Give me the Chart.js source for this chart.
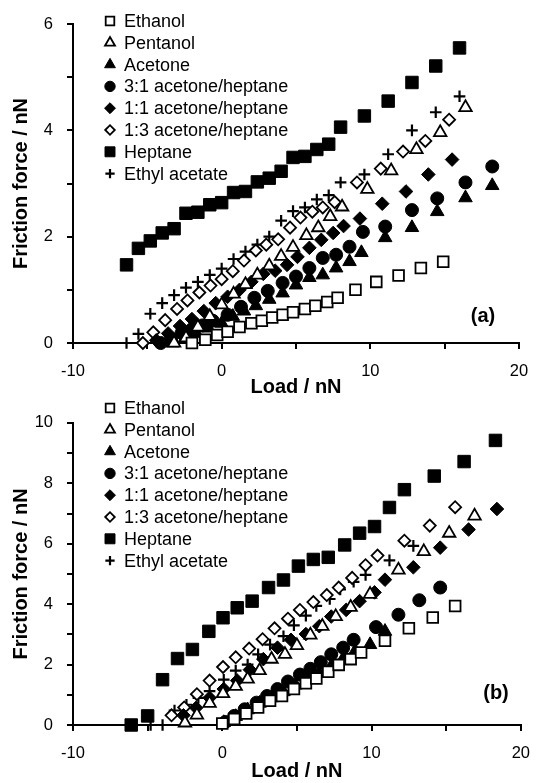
<!DOCTYPE html>
<html>
<head>
<meta charset="utf-8">
<script src="https://cdn.jsdelivr.net/npm/chart.js@4.4.1/dist/chart.umd.min.js"></script>
<style>
  body { margin: 0; background: #fff; }
  canvas { display: block; }
</style>
</head>
<body>
<canvas id="chartA" width="543" height="399"></canvas>
<canvas id="chartB" width="543" height="384"></canvas>
<script>
// Series names (legend order)
const seriesNames = ["Ethanol", "Pentanol", "Acetone", "3:1 acetone/heptane",
  "1:1 acetone/heptane", "1:3 acetone/heptane", "Heptane", "Ethyl acetate"];

// Axis ticks
const xTicks = [-10, 0, 10, 20];
const yTicksA = [0, 2, 4, 6];
const yTicksB = [0, 2, 4, 6, 8, 10];

// ---- Panel (a) : load (nN) / friction force (nN) ----
const ethanolAx = [-2.0, -1.1, -0.3, 0.4, 1.2, 2.0, 2.7, 3.4, 4.1, 4.8, 5.6, 6.3, 7.1, 7.8, 9.0, 10.4, 11.9, 13.4, 14.9];
const ethanolAy = [0, 0.06, 0.15, 0.21, 0.3, 0.37, 0.42, 0.48, 0.53, 0.58, 0.64, 0.7, 0.77, 0.85, 1.0, 1.15, 1.27, 1.41, 1.53];
const pentanolAx = [-3.2, -2.4, -1.6, -0.8, 0, 0.8, 1.6, 2.4, 3.2, 4.0, 4.8, 5.7, 6.5, 7.3, 8.1, 9.8, 11.4, 13.1, 14.7, 16.4];
const pentanolAy = [0, 0.1, 0.3, 0.5, 0.72, 0.92, 1.1, 1.28, 1.45, 1.63, 1.8, 2.02, 2.17, 2.38, 2.56, 2.89, 3.24, 3.64, 3.96, 4.43];
const acetoneAx = [-3.3, -2.5, -1.7, -0.9, 0, 0.75, 1.5, 2.3, 3.2, 4.1, 5.0, 5.9, 6.8, 7.7, 8.6, 9.4, 11.0, 12.8, 14.5, 16.4, 18.2];
const acetoneAy = [0, 0.08, 0.18, 0.28, 0.37, 0.5, 0.6, 0.7, 0.82, 0.94, 1.09, 1.23, 1.28, 1.41, 1.53, 1.7, 1.98, 2.17, 2.47, 2.73, 2.96];
const ace31Ax = [-4.1, -3.4, -2.7, -2.0, -1.3, -0.6, 0.4, 1.3, 2.2, 3.1, 4.1, 5.0, 5.9, 6.8, 7.7, 8.6, 9.5, 11.0, 12.8, 14.5, 16.4, 18.2];
const ace31Ay = [0, 0.08, 0.19, 0.26, 0.33, 0.42, 0.53, 0.68, 0.85, 0.98, 1.13, 1.25, 1.41, 1.6, 1.66, 1.81, 2.09, 2.19, 2.5, 2.72, 3.02, 3.32];
const ace11Ax = [-4.4, -3.6, -2.8, -2.0, -1.2, -0.4, 0.4, 1.2, 2.0, 2.8, 3.6, 4.4, 5.1, 5.9, 6.7, 7.5, 8.2, 9.3, 10.8, 12.4, 13.9, 15.5];
const ace11Ay = [0.05, 0.18, 0.32, 0.45, 0.6, 0.75, 0.87, 1.0, 1.15, 1.3, 1.36, 1.47, 1.62, 1.79, 1.94, 2.07, 2.2, 2.34, 2.62, 2.85, 3.17, 3.45];
const ace13Ax = [-5.3, -4.6, -3.8, -3.0, -2.3, -1.5, -0.75, 0, 0.75, 1.5, 2.3, 3.0, 3.8, 4.6, 5.3, 6.1, 6.8, 7.6, 9.1, 10.7, 12.2, 13.7, 15.3];
const ace13Ay = [0, 0.2, 0.43, 0.64, 0.8, 0.95, 1.08, 1.2, 1.35, 1.55, 1.74, 1.85, 1.95, 2.17, 2.36, 2.47, 2.55, 2.65, 3.02, 3.28, 3.6, 3.8, 4.2];
const heptaneAx = [-6.4, -5.6, -4.8, -4.0, -3.2, -2.4, -1.6, -0.8, 0, 0.8, 1.6, 2.4, 3.2, 4.0, 4.8, 5.6, 6.4, 7.2, 8.0, 9.6, 11.2, 12.8, 14.4, 16.0];
const heptaneAy = [1.47, 1.78, 1.92, 2.07, 2.15, 2.44, 2.46, 2.6, 2.64, 2.83, 2.85, 3.03, 3.1, 3.23, 3.49, 3.51, 3.64, 3.74, 4.06, 4.27, 4.55, 4.9, 5.21, 5.55];
const ethylAx = [-6.4, -5.6, -4.8, -4.0, -3.2, -2.4, -1.6, -0.8, 0, 0.8, 1.6, 2.4, 3.2, 4.0, 4.8, 5.6, 6.4, 7.2, 8.0, 9.6, 11.2, 12.8, 14.4, 16.0];
const ethylAy = [0, 0.17, 0.55, 0.75, 0.9, 1.04, 1.15, 1.28, 1.4, 1.58, 1.72, 1.85, 2.0, 2.3, 2.48, 2.55, 2.7, 2.78, 3.02, 3.17, 3.55, 4.0, 4.34, 4.64];

// ---- Panel (b) ----
const ethanolBx = [0, 0.8, 1.6, 2.4, 3.2, 4.0, 4.8, 5.6, 6.3, 7.1, 7.8, 8.6, 9.3, 10.9, 12.5, 14.1, 15.6];
const ethanolBy = [0.05, 0.2, 0.38, 0.58, 0.8, 0.96, 1.19, 1.38, 1.54, 1.76, 1.99, 2.18, 2.4, 2.79, 3.2, 3.56, 3.94];
const pentanolBx = [-2.5, -1.7, -0.85, 0.05, 0.9, 1.7, 2.5, 3.3, 4.2, 5.0, 5.9, 6.7, 7.6, 8.6, 9.9, 11.8, 13.5, 15.2, 16.9];
const pentanolBy = [0.07, 0.33, 0.72, 1.04, 1.28, 1.52, 1.8, 2.18, 2.34, 2.63, 2.98, 3.27, 3.59, 3.9, 4.33, 5.13, 5.74, 6.35, 6.92];
const acetoneBx = [0.1, 0.9, 1.7, 2.5, 3.3, 4.1, 4.9, 5.7, 6.5, 7.3, 8.1, 8.9, 9.9, 10.9];
const acetoneBy = [0.08, 0.28, 0.5, 0.72, 0.9, 1.1, 1.32, 1.52, 1.72, 1.95, 2.2, 2.45, 2.66, 3.1];
const ace31Bx = [0.2, 0.8, 1.5, 2.3, 3.0, 3.7, 4.4, 5.2, 5.9, 6.6, 7.3, 8.1, 8.8, 10.3, 11.8, 13.2, 14.6];
const ace31By = [0.1, 0.3, 0.52, 0.74, 0.96, 1.19, 1.44, 1.67, 1.86, 2.08, 2.34, 2.56, 2.82, 3.24, 3.65, 4.13, 4.55];
const ace11Bx = [-2.6, -1.75, -0.85, 0.1, 1.0, 1.85, 2.75, 3.7, 4.6, 5.6, 6.5, 7.3, 8.3, 9.2, 10.2, 10.9, 12.8, 14.6, 16.5, 18.4];
const ace11By = [0.32, 0.57, 0.9, 1.19, 1.47, 1.83, 2.18, 2.56, 2.82, 3.01, 3.27, 3.59, 3.81, 4.1, 4.39, 4.81, 5.22, 5.87, 6.47, 7.15];
const ace13Bx = [-3.4, -2.55, -1.7, -0.85, 0.05, 0.9, 1.8, 2.7, 3.5, 4.4, 5.2, 6.1, 7.0, 7.8, 8.7, 9.6, 10.4, 12.2, 13.9, 15.6];
const ace13By = [0.32, 0.58, 1.02, 1.47, 1.92, 2.24, 2.53, 2.84, 3.2, 3.52, 3.81, 4.07, 4.3, 4.55, 4.87, 5.29, 5.61, 6.1, 6.6, 7.21];
const heptaneBx = [-6.1, -5.0, -4.0, -3.0, -2.0, -0.9, 0.05, 1.0, 2.0, 3.1, 4.1, 5.1, 6.1, 7.1, 8.2, 9.2, 10.2, 11.2, 12.2, 14.2, 16.2, 18.3];
const heptaneBy = [0, 0.3, 1.5, 2.2, 2.5, 3.1, 3.55, 3.88, 4.1, 4.55, 4.8, 5.26, 5.48, 5.55, 5.96, 6.35, 6.57, 7.2, 7.79, 8.24, 8.72, 9.42];
const ethylBx = [-4.8, -4.0, -3.2, -2.4, -1.6, -0.85, 0.1, 0.9, 1.7, 2.4, 3.2, 4.1, 4.8, 5.6, 6.3, 7.2, 7.9, 8.8, 9.6, 11.2, 12.8];
const ethylBy = [0, 0, 0.48, 0.67, 0.9, 1.12, 1.5, 1.8, 2.0, 2.34, 2.66, 2.94, 3.3, 3.62, 3.94, 4.17, 4.49, 4.74, 4.97, 5.45, 5.93];

const FONT = "Arial, 'Liberation Sans', sans-serif";
Chart.defaults.font.family = FONT;
Chart.defaults.color = "#000";

// marker look per series
const markers = [
  { style: "rect", radius: 7.6, fill: "#fff", border: 1.8 },
  { style: "triangle", radius: 7.2, fill: "#fff", border: 1.8 },
  { style: "triangle", radius: 7.8, fill: "#000", border: 1 },
  { style: "circle", radius: 6.5, fill: "#000", border: 1 },
  { style: "rectRot", radius: 6.8, fill: "#000", border: 1 },
  { style: "rectRot", radius: 6, fill: "#fff", border: 1.8 },
  { style: "rect", radius: 8.8, fill: "#000", border: 1 },
  { style: "cross", radius: 5.8, fill: "#000", border: 2.2 },
];

function toPoints(xs, ys) {
  return xs.map((x, i) => ({ x: x, y: ys[i] }));
}

function buildDatasets(xsList, ysList) {
  return seriesNames.map((name, i) => {
    const m = markers[i];
    return {
      label: name,
      data: toPoints(xsList[i], ysList[i]),
      showLine: false,
      pointStyle: m.style,
      pointRadius: m.radius,
      pointHoverRadius: m.radius,
      pointBackgroundColor: m.fill,
      pointBorderColor: "#000",
      pointBorderWidth: m.border,
      clip: false,
    };
  });
}

// legend inside the plot + panel tag
const insideLegend = {
  id: "insideLegend",
  afterDatasetsDraw(chart, args, opts) {
    const ctx = chart.ctx;
    ctx.save();
    ctx.textBaseline = "middle";
    ctx.textAlign = "left";
    chart.data.datasets.forEach((ds, i) => {
      const y = opts.top + i * opts.gap;
      ctx.fillStyle = ds.pointBackgroundColor;
      ctx.strokeStyle = "#000";
      ctx.lineWidth = ds.pointBorderWidth;
      Chart.helpers.drawPoint(ctx, {
        pointStyle: ds.pointStyle,
        radius: ds.pointRadius * 0.8,
        borderWidth: ds.pointBorderWidth,
        rotation: 0,
      }, opts.left, y);
      ctx.fillStyle = "#000";
      ctx.font = "18px " + FONT;
      ctx.fillText(ds.label, opts.left + 14, y + 1);
    });
    ctx.font = "bold 20px " + FONT;
    ctx.textAlign = "center";
    ctx.fillText(opts.tag, opts.tagX, opts.tagY);
    ctx.restore();
  },
};

function makeChart(id, datasets, yMax, yTicks, pad, xAxisH, legendOpts) {
  return new Chart(document.getElementById(id), {
    type: "scatter",
    data: { datasets: datasets },
    plugins: [insideLegend],
    options: {
      responsive: false,
      animation: false,
      devicePixelRatio: 1,
      layout: { padding: pad },
      plugins: {
        legend: { display: false },
        tooltip: { enabled: false },
        insideLegend: legendOpts,
      },
      scales: {
        x: {
          type: "linear",
          min: -10,
          max: 20,
          border: { color: "#000", width: 2 },
          grid: { drawOnChartArea: false, drawTicks: true, tickLength: 6, color: "#000", lineWidth: 2 },
          ticks: {
            stepSize: 5,
            autoSkip: false,
            maxRotation: 0,
            padding: 13,
            font: { size: 16.5 },
            callback: (v) => (xTicks.includes(v) ? String(v) : ""),
          },
          title: { display: true, text: "Load / nN", font: { size: 20, weight: "bold" }, padding: 0 },
          afterFit: (s) => { s.height = xAxisH; },
        },
        y: {
          type: "linear",
          min: 0,
          max: yMax,
          border: { color: "#000", width: 2 },
          grid: { drawOnChartArea: false, drawTicks: true, tickLength: 6, color: "#000", lineWidth: 2 },
          ticks: {
            stepSize: 1,
            autoSkip: false,
            padding: 14,
            font: { size: 16.5 },
            callback: (v) => (yTicks.includes(v) ? String(v) : ""),
          },
          title: { display: true, text: "Friction force / nN", font: { size: 20, weight: "bold" }, padding: { top: 9, bottom: 0 } },
          afterFit: (s) => { s.width = 73; },
        },
      },
    },
  });
}

makeChart("chartA",
  buildDatasets(
    [ethanolAx, pentanolAx, acetoneAx, ace31Ax, ace11Ax, ace13Ax, heptaneAx, ethylAx],
    [ethanolAy, pentanolAy, acetoneAy, ace31Ay, ace11Ay, ace13Ay, heptaneAy, ethylAy]),
  6, yTicksA, { left: 0, top: 24, right: 24, bottom: 0 }, 56,
  { left: 110, top: 21, gap: 21.8, tag: "(a)", tagX: 483, tagY: 316 });

makeChart("chartB",
  buildDatasets(
    [ethanolBx, pentanolBx, acetoneBx, ace31Bx, ace11Bx, ace13Bx, heptaneBx, ethylBx],
    [ethanolBy, pentanolBy, acetoneBy, ace31By, ace11By, ace13By, heptaneBy, ethylBy]),
  10, yTicksB, { left: 0, top: 14, right: 11, bottom: 0 }, 58,
  { left: 110, top: 9, gap: 21.8, tag: "(b)", tagX: 496, tagY: 294 });
</script>
</body>
</html>
